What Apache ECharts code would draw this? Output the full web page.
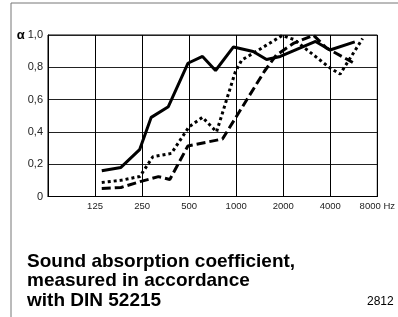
<!DOCTYPE html>
<html>
<head>
<meta charset="utf-8">
<script src="https://cdn.jsdelivr.net/npm/echarts@6/dist/echarts.min.js"></script>
<style>
  html, body { margin: 0; padding: 0; background: #fff; }
  #chart { width: 398px; height: 317px; }
</style>
</head>
<body>
<div id="chart"></div>
<script>
// x ticks: octave positions 0..7 from 62.5 Hz
const xTicks = ['', '125', '250', '500', '1000', '2000', '4000', '8000 Hz'];
const yTicks = [0, 0.2, 0.4, 0.6, 0.8, 1.0];

// solid curve
const solidHz = [138, 183, 241, 286, 368, 491, 609, 738, 961, 1284, 1565, 1916, 3221, 3984, 5740];
const solidVal = [0.16, 0.18, 0.29, 0.49, 0.556, 0.825, 0.867, 0.78, 0.926, 0.898, 0.848, 0.867, 0.96, 0.907, 0.957];

// dotted curve
const dotHz = [138, 182, 242, 293, 385, 500, 609, 749, 986, 1086, 1354, 1971, 2344, 3984, 4621, 6441];
const dotVal = [0.087, 0.10, 0.124, 0.246, 0.267, 0.432, 0.49, 0.40, 0.77, 0.845, 0.90, 0.997, 0.972, 0.796, 0.758, 0.978];

// dashed curve
const dashHz = [138, 183, 243, 318, 376, 491, 817, 1520, 1808, 2344, 3130, 3775, 5575];
const dashVal = [0.05, 0.056, 0.092, 0.123, 0.105, 0.313, 0.356, 0.777, 0.876, 0.95, 0.998, 0.92, 0.83];

const oct = f => Math.log2(f / 62.5);
const pts = (hz, v) => hz.map((f, i) => [oct(f), v[i]]);

let chart = echarts.init(document.getElementById('chart'));

let option = {
  animation: false,
  textStyle: { fontFamily: 'Liberation Sans, Arial, sans-serif' },
  grid: {
    left: 48, right: 14, top: 35, bottom: 120.5,
    show: true, borderColor: '#000', borderWidth: 1
  },
  title: [
    {
      text: 'Sound absorption coefficient,\nmeasured in accordance\nwith DIN 52215',
      left: 22, top: 247,
      textStyle: {
        fontFamily: 'Liberation Sans, Arial, sans-serif',
        fontSize: 19, fontWeight: 'bold', color: '#000', lineHeight: 19.5
      }
    },
    {
      text: '2812',
      left: 362, top: 291,
      textStyle: {
        fontFamily: 'Liberation Sans, Arial, sans-serif',
        fontSize: 12, fontWeight: 'normal', color: '#000'
      }
    }
  ],
  graphic: [
    { type: 'line', shape: { x1: 11, y1: 3, x2: 11, y2: 317 }, style: { stroke: '#777', lineWidth: 1 } },
    { type: 'line', shape: { x1: 11, y1: 3, x2: 398, y2: 3 }, style: { stroke: '#777', lineWidth: 1 } }
  ],
  xAxis: {
    type: 'value', min: 0, max: 7, interval: 1,
    axisLine: { lineStyle: { color: '#000', width: 1 } },
    axisTick: { show: false },
    splitLine: { lineStyle: { color: '#000', width: 1 } },
    axisLabel: {
      margin: 5, fontSize: 9.5, color: '#222',
      formatter: v => xTicks[v]
    }
  },
  yAxis: {
    type: 'value', min: 0, max: 1, interval: 0.2,
    axisLine: { show: true, lineStyle: { color: '#000', width: 1 } },
    axisTick: { show: false },
    splitLine: { lineStyle: { color: '#222', width: 1 } },
    axisLabel: {
      margin: 5, fontSize: 11, color: '#222',
      formatter: v => {
        const t = yTicks.find(y => Math.abs(y - v) < 1e-6);
        const s = t === 0 ? '0' : t.toFixed(1).replace('.', ',');
        return t === 1 ? '{a|α} ' + s : s;
      },
      rich: { a: { fontSize: 13, fontWeight: 'bold', color: '#000' } }
    }
  },
  series: [
    {
      name: 'solid', type: 'line', data: pts(solidHz, solidVal),
      symbol: 'none', lineStyle: { color: '#000', width: 3, type: 'solid' }
    },
    {
      name: 'dotted', type: 'line', data: pts(dotHz, dotVal),
      symbol: 'none', lineStyle: { color: '#000', width: 3, type: [3, 3] }
    },
    {
      name: 'dashed', type: 'line', data: pts(dashHz, dashVal),
      symbol: 'none', lineStyle: { color: '#000', width: 3, type: [9, 4] }
    }
  ]
};

chart.setOption(option);
</script>
</body>
</html>
